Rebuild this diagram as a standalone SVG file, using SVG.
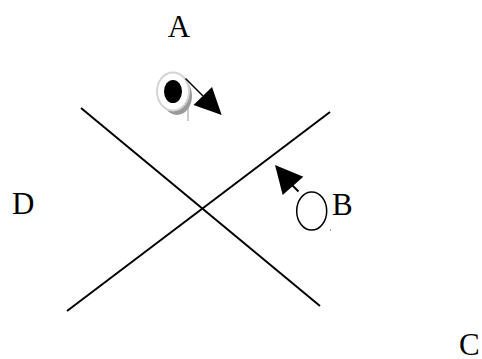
<svg xmlns="http://www.w3.org/2000/svg" width="482" height="359" viewBox="0 0 482 359">
<style>
.lbl{font-family:"Liberation Serif","Times New Roman",serif;font-size:31px;fill:#000}
.ln{stroke:#000;stroke-width:2;fill:none}
.hd{fill:#000;stroke:none}
</style>
<rect width="482" height="359" fill="#fff"/>
<g id="labels">
<text id="label-A" class="lbl" x="179" y="36.5" text-anchor="middle">A</text>
<text id="label-D" class="lbl" x="12" y="214">D</text>
<text id="label-B" class="lbl" x="332" y="215">B</text>
<text id="label-C" class="lbl" x="459" y="355">C</text>
</g>
<g id="node-A">
<ellipse cx="177" cy="96" rx="15" ry="19" fill="#9a9a9a"/>
<ellipse cx="173" cy="91.5" rx="16" ry="19" fill="#fff" stroke="#d4d4d4" stroke-width="2"/>
<ellipse cx="173" cy="91.5" rx="9" ry="11.5" fill="#000"/>
<line x1="188" y1="107" x2="188" y2="121" stroke="#999" stroke-width="1"/>
</g>
<g id="node-B">
<ellipse cx="311.7" cy="211" rx="15" ry="19" fill="none" stroke="#000" stroke-width="1.5"/>
<rect x="330" y="229.5" width="1" height="1" fill="#555"/>
</g>
<g id="connectors">
<line class="ln" x1="81" y1="108" x2="320" y2="306"/>
<line class="ln" x1="330" y1="112" x2="67" y2="311"/>
<line x1="185.5" y1="78.5" x2="203" y2="96" stroke="#000" stroke-width="1.5"/>
<polygon class="hd" points="221.7,115 212,87 193.5,105"/>
<line x1="298.5" y1="191.5" x2="292" y2="185" stroke="#000" stroke-width="2"/>
<polygon class="hd" points="275,165 303.3,176.7 282.7,195"/>
</g>
</svg>
